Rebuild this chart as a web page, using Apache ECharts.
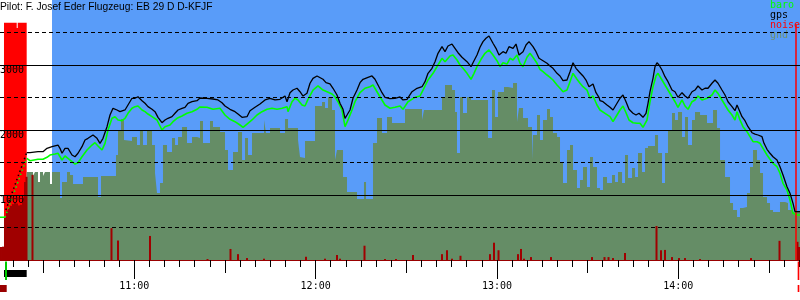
<!DOCTYPE html>
<html><head><meta charset="utf-8">
<script src="https://cdn.jsdelivr.net/npm/echarts@6/dist/echarts.min.js"></script>
<style>html,body{margin:0;padding:0;background:#fff}#c{width:800px;height:300px}</style>
</head><body><div id="c"></div>
<script>
// x values: minutes after 10:00 ; y values: altitude in metres
const titleText = 'Pilot: F. Josef Eder Flugzeug: EB 29 D D-KFJF';
const timeMin = 15.56, timeMax = 280.27;
const altMin = 0, altMax = 4000;
const altLabelValues = [1000, 2000, 3000];
const hourTicks = [60, 120, 180, 240];
const hourLabels = {60: '11:00', 120: '12:00', 180: '13:00', 240: '14:00'};
const halfHourTicks = [30, 90, 150, 210, 270];
const fiveMinTicks = [];
for (let m = 20; m <= 280; m += 5) fiveMinTicks.push(m);

const recordedPeriod = [32.77, 280.27];          // blue background
const engineBand = [16.88, 24.39, 3569];          // red band (engine running)
const engineBandTops = [[16.88, 21.09, 3650], [21.42, 24.39, 3650]];
const landingLine = [279.02, 3615];

// bottom event markers: [start, end, kind]
const eventMarks = [[16.88, 24.39, 'engine'], [17.21, 17.88, 'takeoff'], [15.56, 17.78, 'start'],
  [279.5, 280.05, 'landing'], [279.5, 280.05, 'landing2']];

const gpsLaunch = [[17.5, 770], [24.39, 1651]];
const gps = [[24.39,1651],[25.49,1651],[28.13,1666],[29.79,1666],[31.11,1718],[32.77,1743],[34.75,1769],[35.41,1718],[36.08,1642],[37.07,1718],[38.06,1718],[39.38,1615],[40.38,1589],[41.37,1642],[42.69,1743],[43.69,1846],[44.68,1872],[46.33,1923],[47.66,1872],[48.65,1795],[49.64,1872],[50.97,2051],[51.96,2231],[52.95,2334],[54.27,2308],[55.27,2282],[56.92,2308],[57.91,2385],[59.24,2488],[60.23,2488],[61.22,2512],[62.55,2451],[63.54,2411],[64.53,2359],[65.86,2318],[66.85,2282],[67.84,2195],[69.16,2112],[70.16,2154],[71.15,2180],[72.47,2205],[73.47,2257],[74.46,2308],[75.78,2334],[76.77,2349],[77.77,2411],[79.09,2435],[80.75,2451],[81.74,2492],[84.05,2488],[86.04,2477],[87.69,2462],[89.02,2420],[90.01,2369],[91.66,2318],[93.32,2282],[94.31,2246],[95.64,2195],[95.97,2165],[97.29,2205],[98.28,2297],[99.94,2349],[101.59,2400],[103.25,2462],[104.90,2488],[106.56,2462],[108.21,2472],[109.86,2523],[110.53,2435],[111.52,2574],[112.51,2615],[113.83,2642],[114.83,2589],[115.82,2523],[117.14,2565],[118.14,2719],[119.13,2795],[120.45,2831],[121.11,2846],[122.44,2780],[123.43,2728],[124.75,2708],[125.75,2642],[127.07,2538],[128.06,2411],[129.06,2318],[129.72,2180],[130.38,2231],[131.37,2308],[132.36,2488],[133.69,2615],[134.68,2728],[135.67,2780],[137.33,2811],[138.65,2831],[139.64,2780],[140.64,2692],[141.96,2574],[142.95,2503],[144.61,2482],[146.26,2488],[147.92,2508],[148.91,2462],[150.23,2472],[151.89,2589],[153.54,2642],[155.20,2666],[156.19,2743],[157.18,2872],[158.50,2949],[159.50,3051],[160.49,3180],[161.81,3282],[162.81,3205],[163.80,3292],[165.12,3323],[166.11,3257],[167.11,3189],[168.43,3119],[170.09,3051],[171.41,2974],[172.07,3035],[173.39,3154],[174.39,3272],[175.38,3359],[176.37,3411],[177.37,3446],[178.69,3334],[179.68,3257],[180.67,3154],[182.0,3205],[182.99,3180],[183.98,3282],[185.31,3257],[186.30,3323],[187.29,3154],[188.62,3205],[189.61,3308],[190.60,3359],[191.92,3282],[192.92,3205],[193.91,3103],[195.23,3066],[196.56,3026],[197.55,2985],[198.54,2949],[199.87,2872],[200.86,2831],[201.85,2759],[203.17,2769],[204.17,2897],[205.16,3035],[206.15,2949],[207.15,2897],[208.47,2831],[209.46,2769],[210.45,2666],[211.78,2708],[212.77,2574],[213.76,2503],[214.09,2451],[215.09,2435],[216.41,2385],[217.40,2349],[218.40,2308],[219.72,2411],[220.71,2488],[221.70,2538],[222.70,2435],[223.69,2318],[225.01,2257],[226.01,2231],[227.00,2257],[228.32,2195],[229.32,2257],[229.98,2411],[230.64,2589],[231.63,2795],[232.29,2974],[232.95,3035],[233.62,3000],[234.61,2923],[235.60,2820],[236.59,2743],[237.92,2615],[238.91,2589],[239.90,2503],[241.23,2574],[242.22,2523],[243.21,2488],[244.54,2589],[245.53,2615],[246.52,2677],[247.84,2615],[248.84,2642],[249.83,2642],[251.15,2719],[252.15,2769],[253.14,2719],[254.46,2615],[255.46,2538],[256.45,2435],[257.77,2359],[258.76,2297],[259.43,2385],[260.09,2359],[261.08,2205],[262.07,2143],[263.07,2051],[264.39,1958],[265.38,1938],[266.37,1923],[267.70,1897],[268.36,1795],[269.35,1703],[270.35,1642],[271.34,1589],[272.66,1538],[273.65,1435],[274.65,1308],[275.97,1128],[276.96,1026],[277.96,872],[278.62,743],[280.27,743]];

const baroGround = [[15.56, 657], [17.21, 657]];
const baroLaunch = [[17.21, 657], [24.39, 1565]];
const baro = [[24.39,1565],[25.49,1528],[28.13,1549],[29.79,1549],[31.11,1580],[32.10,1615],[33.76,1631],[34.75,1642],[36.08,1538],[37.07,1600],[38.06,1565],[39.38,1512],[40.38,1477],[41.37,1497],[42.69,1589],[44.35,1692],[46.00,1769],[46.99,1805],[47.99,1754],[49.31,1692],[50.30,1795],[51.30,2000],[52.62,2180],[53.61,2205],[54.61,2154],[55.93,2143],[56.92,2180],[57.91,2257],[59.24,2334],[60.23,2359],[61.22,2369],[62.55,2308],[63.54,2282],[64.53,2246],[65.86,2205],[67.51,2154],[69.16,2000],[70.16,2051],[71.81,2077],[72.80,2128],[74.13,2180],[75.78,2215],[77.44,2257],[79.09,2282],[80.75,2318],[81.74,2354],[84.05,2349],[86.04,2318],[88.36,2334],[90.01,2231],[91.66,2165],[93.32,2128],[94.97,2077],[95.97,2042],[97.29,2092],[98.94,2154],[100.60,2231],[102.25,2282],[103.91,2318],[105.56,2334],[107.22,2318],[108.87,2334],[110.53,2359],[110.86,2282],[112.18,2435],[113.17,2488],[114.17,2462],[115.49,2385],[116.48,2369],[117.47,2472],[119.13,2615],[120.78,2677],[122.44,2615],[123.76,2589],[125.42,2554],[126.41,2512],[127.40,2435],[128.72,2308],[129.72,2051],[130.71,2154],[132.03,2308],[133.03,2435],[134.68,2574],[136.33,2642],[137.99,2666],[138.98,2692],[140.31,2589],[141.30,2512],[142.95,2385],[144.61,2334],[146.26,2349],[147.92,2369],[148.91,2318],[150.56,2435],[152.88,2503],[154.53,2523],[155.53,2615],[157.18,2769],[158.84,2872],[160.49,3000],[161.81,3103],[162.81,3051],[164.46,3139],[165.45,3154],[166.78,3077],[167.77,3000],[168.76,2949],[170.09,2872],[171.41,2780],[172.40,2872],[173.39,2974],[174.72,3088],[176.04,3180],[177.37,3231],[178.69,3154],[180.01,3066],[181.01,2974],[182.0,3035],[183.32,3015],[184.31,3103],[185.31,3077],[186.63,3154],[187.62,3026],[188.62,2974],[189.94,3119],[190.93,3180],[191.92,3119],[193.25,3026],[194.24,2934],[195.23,2897],[196.56,2846],[197.55,2811],[198.54,2769],[199.87,2692],[200.86,2642],[201.85,2589],[203.17,2615],[204.17,2743],[205.16,2872],[206.48,2780],[207.48,2719],[208.47,2666],[209.79,2615],[210.79,2488],[211.78,2523],[213.10,2385],[214.09,2308],[215.75,2257],[217.40,2205],[218.40,2128],[219.72,2231],[220.71,2308],[221.70,2369],[222.70,2266],[223.69,2154],[225.01,2112],[226.34,2103],[227.33,2103],[228.32,2042],[229.65,2154],[230.64,2435],[231.63,2666],[232.62,2831],[233.29,2872],[234.61,2769],[235.60,2692],[236.59,2615],[237.92,2512],[238.91,2435],[239.90,2349],[241.23,2462],[242.22,2369],[243.21,2318],[244.54,2435],[245.53,2462],[246.52,2523],[247.84,2462],[249.50,2489],[251.15,2538],[252.15,2615],[253.14,2564],[254.46,2462],[255.46,2385],[256.45,2308],[257.77,2231],[258.76,2154],[259.43,2282],[260.42,2154],[261.41,2051],[262.73,1974],[263.73,1897],[264.72,1820],[266.04,1820],[267.04,1795],[268.03,1718],[269.35,1615],[270.35,1549],[271.34,1488],[272.66,1435],[273.65,1334],[274.65,1180],[275.97,1077],[276.96,923],[277.96,718],[279.28,692],[280.27,692]];

const gnd = [[24.39,1354],[26.48,1292],[27.14,1354],[28.13,1200],[28.80,1354],[29.79,1292],[30.45,1354],[32.10,1169],[32.77,1354],[35.41,954],[36.08,1200],[37.73,1354],[38.72,1308],[39.72,1169],[43.02,1277],[47.99,969],[48.98,1292],[53.94,1615],[54.61,2000],[55.60,2169],[56.59,1846],[56.92,1831],[59.24,1892],[60.89,1769],[61.88,2000],[62.88,1769],[64.20,1985],[65.86,1769],[66.85,1338],[67.51,1031],[68.50,1185],[69.49,1769],[70.82,1662],[72.47,1877],[73.47,1769],[74.46,1892],[75.78,2046],[77.44,1800],[79.09,1892],[80.75,1877],[81.74,2138],[82.73,1800],[85.05,2138],[86.04,2046],[88.36,1969],[90.01,1692],[91.00,1385],[92.66,1662],[94.31,1969],[95.64,1538],[96.63,1877],[97.62,1615],[98.94,1954],[102.92,2154],[103.58,1954],[104.90,2031],[108.21,1954],[109.86,2169],[110.86,2031],[114.17,1846],[114.83,1585],[115.49,1569],[116.48,1831],[119.79,2369],[122.11,2431],[123.10,2338],[124.09,2508],[125.42,2308],[126.41,1538],[127.07,1692],[129.06,1277],[130.38,1046],[133.69,938],[136.00,1200],[136.67,938],[138.98,1800],[140.31,2185],[141.96,1954],[143.62,2200],[145.27,2108],[149.57,2323],[155.20,2154],[155.86,2308],[161.81,2508],[162.81,2692],[165.12,2615],[166.11,2277],[166.78,1646],[167.77,2508],[168.76,2262],[170.09,2508],[171.41,2462],[177.04,1877],[178.36,2615],[179.35,2200],[180.34,2585],[182.33,2662],[183.65,2646],[185.31,2723],[186.63,2123],[187.29,2338],[188.62,2185],[190.27,2046],[191.59,1538],[191.92,1923],[193.25,2231],[194.24,1846],[195.23,2154],[196.56,2323],[197.55,2200],[198.54,1954],[199.87,1892],[200.86,1492],[201.85,1185],[203.17,1692],[204.17,1769],[205.16,1385],[206.48,1108],[207.48,1231],[208.47,1431],[209.79,1123],[210.79,1585],[211.78,1431],[213.10,1108],[214.09,1077],[215.09,1277],[216.41,1185],[218.07,1308],[219.06,1200],[220.05,1354],[221.38,1185],[222.37,1615],[223.36,1262],[224.69,1415],[225.68,1277],[226.67,1646],[228.0,1354],[228.99,1723],[229.98,1754],[232.29,1923],[233.29,1646],[234.61,1185],[235.60,1646],[236.59,2000],[237.92,2262],[238.91,2154],[239.90,2277],[241.23,1892],[242.22,2200],[243.21,1769],[244.54,2154],[245.53,2277],[247.19,2231],[249.50,2108],[251.49,2308],[252.81,2031],[253.81,1538],[255.46,1277],[257.11,877],[258.11,769],[259.43,662],[260.42,800],[261.41,815],[262.73,1031],[263.73,1431],[264.72,1692],[266.04,1538],[267.04,1338],[268.03,969],[269.35,877],[270.35,769],[271.34,738],[273.65,892],[275.31,877],[276.30,769],[277.96,738],[280.27,738]];

const noise = [[15.89,200],[16.55,205],[17.21,650],[17.88,760],[18.54,800],[19.20,830],[19.86,860],[20.52,880],[21.19,870],[21.85,840],[22.51,850],[23.17,950],[23.83,1200],[24.33,1280],[26.31,1310],[52.45,490],[54.61,300],[65.19,370],[84.22,15],[91.83,170],[94.31,90],[97.29,30],[102.92,20],[116.81,50],[123.10,20],[127.07,77],[128.06,20],[136.17,220],[142.95,15],[146.59,15],[152.22,77],[161.81,90],[163.47,150],[165.12,20],[167.93,65],[177.70,90],[179.02,266],[180.51,150],[186.96,90],[187.95,170],[188.95,20],[191.26,45],[197.88,45],[211.45,45],[215.58,45],[216.91,45],[218.40,30],[222.37,108],[232.79,523],[234.28,150],[235.60,155],[237.92,45],[240.24,30],[242.22,30],[247.19,15],[264.06,30],[273.49,295],[279.44,280],[279.94,200]];

const colors = {blue:'#599cf9', red:'#ff0000', gnd:'#658d66', noise:'#a00000', baro:'#00ff00', gps:'#000000'};
const markRows = {
  engine:   {y0: 10, y1: 17, color: '#000000'},
  takeoff:  {y0: 1.5, y1: 20, color: '#00cc00'},
  start:    {y0: 25, y1: 32, color: '#990000'},
  landing:  {y0: 1.5, y1: 20, color: '#ff0000'},
  landing2: {y0: 25, y1: 32, color: '#ff0000'}
};
const mono = 'DejaVu Sans Mono';

const chart = echarts.init(document.getElementById('c'), null, {renderer: 'canvas'});
const xBase = {type: 'value', min: timeMin, max: timeMax, position: 'bottom', gridIndex: 0,
  splitLine: {show: false}};
chart.setOption({
  animation: false,
  backgroundColor: '#ffffff',
  title: {text: titleText, left: 0, top: 0, padding: [2, 0, 0, 0],
    textStyle: {fontFamily: 'Liberation Sans', fontSize: 10.25, fontWeight: 'normal', color: '#000'}},
  legend: {orient: 'vertical', left: 765, top: 0, padding: 0, itemGap: 0, itemWidth: 0, itemHeight: 10,
    icon: 'none', selectedMode: false,
    textStyle: {fontFamily: mono, fontSize: 10, padding: 0},
    data: [{name: 'baro', textStyle: {color: colors.baro}}, {name: 'gps', textStyle: {color: '#000'}},
      {name: 'noise', textStyle: {color: colors.red}}, {name: 'gnd', textStyle: {color: '#6f916f'}}]},
  grid: [{left: 0, right: 0, top: 0, height: 260, containLabel: false, outerBoundsMode: 'none'},
         {left: 0, right: 0, top: 260, height: 40, containLabel: false, outerBoundsMode: 'none'}],
  xAxis: [
    Object.assign({}, xBase, {
      axisLine: {show: true, onZero: false, lineStyle: {color: '#990000', width: 2}},
      axisTick: {show: true, customValues: fiveMinTicks, length: 7, lineStyle: {color: '#000'}},
      axisLabel: {show: false}}),
    Object.assign({}, xBase, {
      axisLine: {show: false, onZero: false},
      axisTick: {show: true, customValues: halfHourTicks, length: 13, lineStyle: {color: '#000'}},
      axisLabel: {show: false}}),
    Object.assign({}, xBase, {
      axisLine: {show: false, onZero: false},
      axisTick: {show: true, customValues: hourTicks, length: 19, lineStyle: {color: '#000'}},
      axisLabel: {show: true, customValues: hourTicks, margin: 21, formatter: v => hourLabels[v] || '',
        fontFamily: mono, fontSize: 10, color: '#000'}}),
    {type: 'value', min: timeMin, max: timeMax, gridIndex: 1, show: false}
  ],
  yAxis: [
    {type: 'value', min: altMin, max: altMax, interval: 1000, gridIndex: 0, position: 'left', z: 10,
      axisLine: {show: false}, axisTick: {show: false},
      splitLine: {show: true, showMinLine: false, showMaxLine: false, lineStyle: {color: '#000', width: 1}},
      axisLabel: {show: true, inside: true, margin: 0, align: 'left', verticalAlign: 'top',
        customValues: altLabelValues, formatter: v => String(v),
        fontFamily: mono, fontSize: 10, color: '#000'}},
    {type: 'value', min: altMin, max: altMax, interval: 500, gridIndex: 0, position: 'left', z: 10,
      axisLine: {show: false}, axisTick: {show: false}, axisLabel: {show: false},
      splitLine: {show: true, showMinLine: false, showMaxLine: false,
        lineStyle: {color: '#000', width: 1, type: [4, 3]}}},
    {type: 'value', min: 0, max: 40, inverse: true, gridIndex: 1, show: false}
  ],
  series: [
    {name: 'bg', type: 'line', data: [], z: 0, silent: true,
      markArea: {silent: true, data: [
        [{xAxis: recordedPeriod[0], yAxis: altMin, itemStyle: {color: colors.blue, opacity: 1}}, {xAxis: recordedPeriod[1], yAxis: altMax}],
        [{xAxis: engineBand[0], yAxis: altMin, itemStyle: {color: colors.red, opacity: 1}}, {xAxis: engineBand[1], yAxis: engineBand[2]}],
        [{xAxis: engineBandTops[0][0], yAxis: engineBand[2], itemStyle: {color: colors.red, opacity: 1}}, {xAxis: engineBandTops[0][1], yAxis: engineBandTops[0][2]}],
        [{xAxis: engineBandTops[1][0], yAxis: engineBand[2], itemStyle: {color: colors.red, opacity: 1}}, {xAxis: engineBandTops[1][1], yAxis: engineBandTops[1][2]}]
      ]}},
    {name: 'gnd', type: 'line', data: gnd, step: 'end', showSymbol: false, z: 2, silent: true,
      lineStyle: {width: 0}, itemStyle: {color: colors.gnd}, areaStyle: {color: colors.gnd, opacity: 1}},
    {name: 'noise', type: 'custom', data: noise, z: 3, silent: true,
      itemStyle: {color: colors.noise},
      renderItem: function (params, api) {
        const top = api.coord([api.value(0), api.value(1)]);
        const base = api.coord([api.value(0), 0]);
        return {type: 'rect', shape: {x: top[0] - 1, y: top[1], width: 2, height: base[1] - top[1]},
          style: {fill: colors.noise}};
      }},
    {name: 'baro', type: 'line', data: baroGround, showSymbol: false, z: 4, silent: true,
      itemStyle: {color: colors.baro}, lineStyle: {color: colors.baro, width: 1.5}},
    {name: 'baro', type: 'line', data: baroLaunch, showSymbol: false, z: 4, silent: true,
      itemStyle: {color: colors.baro}, lineStyle: {color: colors.baro, width: 1.5, type: [1.5, 3]}},
    {name: 'baro', type: 'line', data: baro, showSymbol: false, z: 4, silent: true,
      itemStyle: {color: colors.baro}, lineStyle: {color: colors.baro, width: 1.6}},
    {name: 'gps', type: 'line', data: gpsLaunch, showSymbol: false, z: 5, silent: true,
      itemStyle: {color: colors.gps}, lineStyle: {color: colors.gps, width: 1.5, type: [1.5, 3]}},
    {name: 'gps', type: 'line', data: gps, showSymbol: false, z: 5, silent: true,
      itemStyle: {color: colors.gps}, lineStyle: {color: colors.gps, width: 1.3},
      markLine: {silent: true, symbol: 'none', label: {show: false},
        lineStyle: {color: colors.red, width: 1.5, type: 'solid'},
        data: [[{coord: [landingLine[0], altMin]}, {coord: [landingLine[0], landingLine[1]]}]]}},
    {name: 'events', type: 'custom', xAxisIndex: 3, yAxisIndex: 2, silent: true, z: 5,
      data: eventMarks,
      renderItem: function (params, api) {
        const row = markRows[eventMarks[params.dataIndex][2]];
        const s = api.coord([api.value(0), 0]);
        const e = api.coord([api.value(1), 0]);
        const top = api.coord([timeMin, row.y0])[1];
        const bot = api.coord([timeMin, row.y1])[1];
        return {type: 'rect', shape: {x: s[0], y: top, width: Math.max(e[0] - s[0], 1.5), height: bot - top},
          style: {fill: row.color}};
      }}
  ]
});
</script></body></html>
